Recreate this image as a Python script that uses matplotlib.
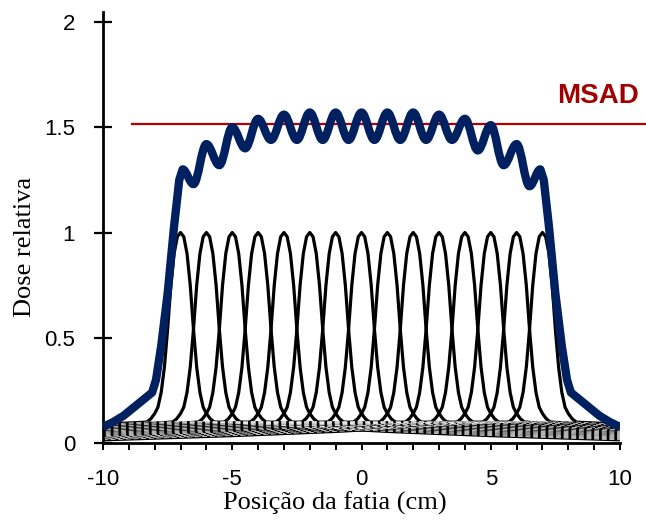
import matplotlib.pyplot as plt
import numpy as np
from matplotlib.path import Path
from matplotlib.patches import PathPatch

plt.rcParams['axes.unicode_minus'] = False

# centres of the single-slice profiles (cm)
slice_centres = [-7, -6, -5, -4, -3, -2, -1, 0, 1, 2, 3, 4, 5, 6, 7]

profile_offset = [0, 0.125, 0.25, 0.375, 0.5, 0.625, 0.75, 0.875, 1.0, 1.15, 1.3, 1.5, 2, 3, 5, 8, 12, 17]
profile_value = [1.0, 0.98, 0.90, 0.75, 0.54, 0.36, 0.24, 0.17, 0.14, 0.115, 0.10, 0.098, 0.095, 0.09, 0.075, 0.055, 0.035, 0.015]

# multiple-scan (summed) profile, the blue curve
# steep edges
blue_left_x = [-10, -9.6, -9.2, -8.8, -8.4, -8.1, -7.95, -7.75, -7.5, -7.25, -7.05]
blue_left_y = [0.076, 0.10, 0.13, 0.17, 0.21, 0.24, 0.30, 0.46, 0.71, 1.03, 1.25]
blue_right_x = [7.05, 7.25, 7.5, 7.75, 7.95, 8.1, 8.4, 8.8, 9.2, 9.6, 10]
blue_right_y = [1.25, 1.03, 0.71, 0.46, 0.30, 0.24, 0.21, 0.17, 0.13, 0.10, 0.076]
# peaks and troughs of the ripple on top
ripple_x = [-6.92, -6.5, -6.0, -5.5, -5.0, -4.5, -4.0, -3.5, -3.0, -2.5, -2.0, -1.5, -1.0, -0.5,
            0.0, 0.5, 1.0, 1.5, 2.0, 2.5, 3.0, 3.5, 4.0, 4.5, 5.0, 5.5, 6.0, 6.5, 6.92]
ripple_y = [1.30, 1.23, 1.42, 1.32, 1.50, 1.40, 1.54, 1.44, 1.56, 1.44, 1.57, 1.44, 1.57, 1.44,
            1.57, 1.44, 1.57, 1.44, 1.57, 1.44, 1.56, 1.44, 1.54, 1.39, 1.51, 1.32, 1.42, 1.22, 1.30]

msad_level = 1.515
msad_span = [-8.86, 11.0]

fig = plt.figure(figsize=(6.46, 5.25), dpi=100)
ax = fig.add_axes([103 / 646, 1 - 443 / 525, 517 / 646, (443 - 11.5) / 525])

# mirror the half profile into a full one
off = np.array(profile_offset)
val = np.array(profile_value)
full_off = np.concatenate([-off[::-1], off[1:]])
full_val = np.concatenate([val[::-1], val[1:]])
tail = np.abs(full_off) >= 1.3

for c in slice_centres:
    ax.plot(full_off + c, full_val, color='black', lw=2.3, solid_joinstyle='round', zorder=2)
    # light dashes inside the tails, like the scanned original
    ax.plot(full_off[tail] + c, full_val[tail], color='white', lw=0.5,
            dashes=(7, 4), zorder=2.1)

# blue curve: straight pieces on the edges, smooth bezier bumps between ripple extremes
verts = [(blue_left_x[0], blue_left_y[0])]
codes = [Path.MOVETO]
for x, y in zip(blue_left_x[1:] + ripple_x[:1], blue_left_y[1:] + ripple_y[:1]):
    verts.append((x, y))
    codes.append(Path.LINETO)
for i in range(len(ripple_x) - 1):
    x1, y1, x2, y2 = ripple_x[i], ripple_y[i], ripple_x[i + 1], ripple_y[i + 1]
    d = 0.36 * (x2 - x1)
    verts += [(x1 + d, y1), (x2 - d, y2), (x2, y2)]
    codes += [Path.CURVE4] * 3
for x, y in zip(blue_right_x, blue_right_y):
    verts.append((x, y))
    codes.append(Path.LINETO)
ax.add_patch(PathPatch(Path(verts, codes), fill=False, edgecolor='#002060', lw=6,
                       joinstyle='round', capstyle='butt', zorder=4))

ax.plot(msad_span, [msad_level, msad_level], color='#b00000', lw=1.6, clip_on=False, zorder=3)
ax.text(10.72, 1.65, 'MSAD', color='#a00000', fontsize=20, fontweight='bold',
        family='Liberation Sans', ha='right', va='center')

ax.set_xlim(-10, 10)
ax.set_ylim(0, 2.05)
ax.set_xticks([-10, -5, 0, 5, 10])
ax.set_xticks(np.arange(-10, 11, 1), minor=True)
ax.set_yticks([0, 0.5, 1, 1.5, 2])
ax.set_yticklabels(['0', '0.5', '1', '1.5', '2'])

for s in ['top', 'right']:
    ax.spines[s].set_visible(False)
ax.spines['left'].set_linewidth(2)
ax.spines['bottom'].set_linewidth(2)

ax.tick_params(axis='y', direction='inout', length=13, width=1.6, pad=13.5,
               labelsize=16, labelfontfamily='Liberation Sans')
ax.tick_params(axis='x', which='both', direction='out', length=5, width=1.4, pad=13.5,
               labelsize=16, labelfontfamily='Liberation Sans')

fig.text(335 / 646, 1 - 503 / 525, 'Posição da fatia (cm)', family='Liberation Serif',
         fontsize=19, ha='center', va='center')
fig.text(25 / 646, 1 - 247 / 525, 'Dose relativa', family='Liberation Serif',
         fontsize=19, ha='center', va='center', rotation=90)

fig.savefig('out.png', dpi=100)
